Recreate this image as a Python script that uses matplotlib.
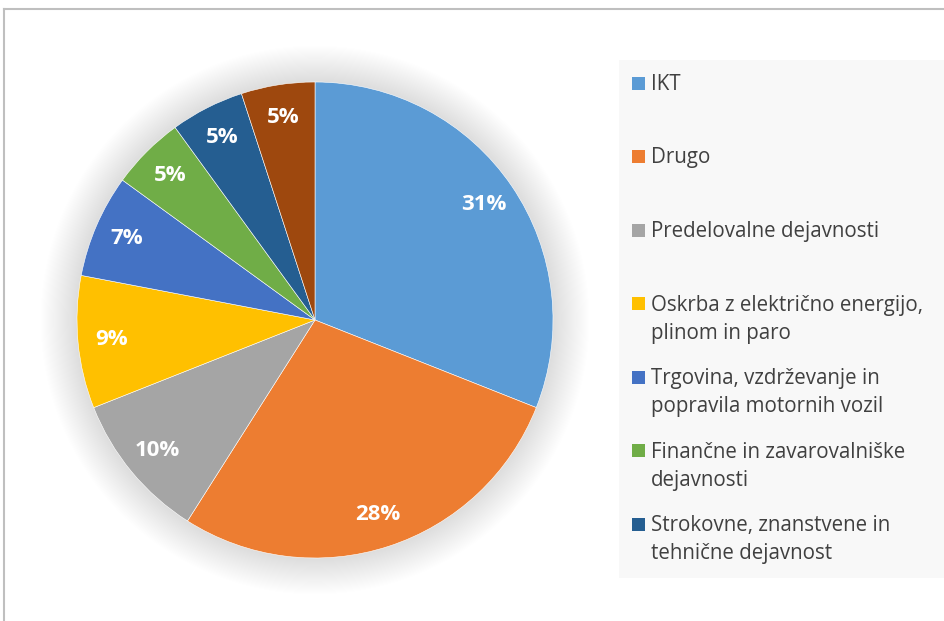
import matplotlib.pyplot as plt
from matplotlib.patches import Circle, Rectangle
from matplotlib.lines import Line2D

plt.rcParams['font.family'] = ['Open Sans', 'DejaVu Sans']

labels = ["IKT", "Drugo", "Predelovalne dejavnosti",
          "Oskrba z električno energijo,\nplinom in paro",
          "Trgovina, vzdrževanje in\npopravila motornih vozil",
          "Finančne in zavarovalniške\ndejavnosti",
          "Strokovne, znanstvene in\ntehnične dejavnost",
          "Ostalo"]
shares = [31, 28, 10, 9, 7, 5, 5, 5]
colors = ["#5B9BD5", "#ED7D31", "#A5A5A5", "#FFC000",
          "#4472C4", "#70AD47", "#255E91", "#9E480E"]
legend_count = 7  # the last entry is cut off in the original

W, H = 944, 621
fig = plt.figure(figsize=(W / 100, H / 100), dpi=100)

# pie centred at (315, 320) px with radius 238 px
cx, cy, r = 315, 320, 238
ax = fig.add_axes([(cx - r) / W, (H - cy - r) / H, 2 * r / W, 2 * r / H])

wedges, texts, autotexts = ax.pie(
    shares, colors=colors, startangle=90, counterclock=False, radius=1,
    autopct='%d%%', pctdistance=0.86,
    wedgeprops=dict(linewidth=0.4, edgecolor='white'),
    textprops=dict(color='white', fontsize=16, fontweight='bold'))
for w in wedges:
    w.set_zorder(2)
for t in autotexts:
    t.set_zorder(3)

# soft shadow around the pie
n = 34
for i in range(n):
    ax.add_patch(Circle((0, 0), 1 + 0.0045 * (n - i), color='black',
                        alpha=0.0045, lw=0, clip_on=False, zorder=0))

ax.set_xlim(-1, 1)
ax.set_ylim(-1, 1)
ax.set_aspect('equal')
ax.axis('off')

# frame lines (top and left visible)
fig.add_artist(Line2D([4 / W, 1], [1 - 9 / H, 1 - 9 / H], color='#bfbfbf', lw=1.5))
fig.add_artist(Line2D([4 / W, 4 / W], [0, 1 - 9 / H], color='#bfbfbf', lw=1.5))

# legend drawn by hand to keep the uneven two-line entries
fig.add_artist(Rectangle((619 / W, 1 - 578 / H), (W - 619) / W, (578 - 60) / H,
                         transform=fig.transFigure, color='#f8f8f8', lw=0, zorder=0))
y0, step = 83, 73.5
for i in range(legend_count):
    y = y0 + i * step
    fig.add_artist(Rectangle((632 / W, 1 - (y + 6.5) / H), 13 / W, 13 / H,
                             transform=fig.transFigure, color=colors[i], lw=0))
    fig.text(651 / W, 1 - (y - 9) / H, labels[i], ha='left', va='top',
             fontsize=14.8, color='#404040', linespacing=1.45)

fig.savefig('out.png', dpi=100)
